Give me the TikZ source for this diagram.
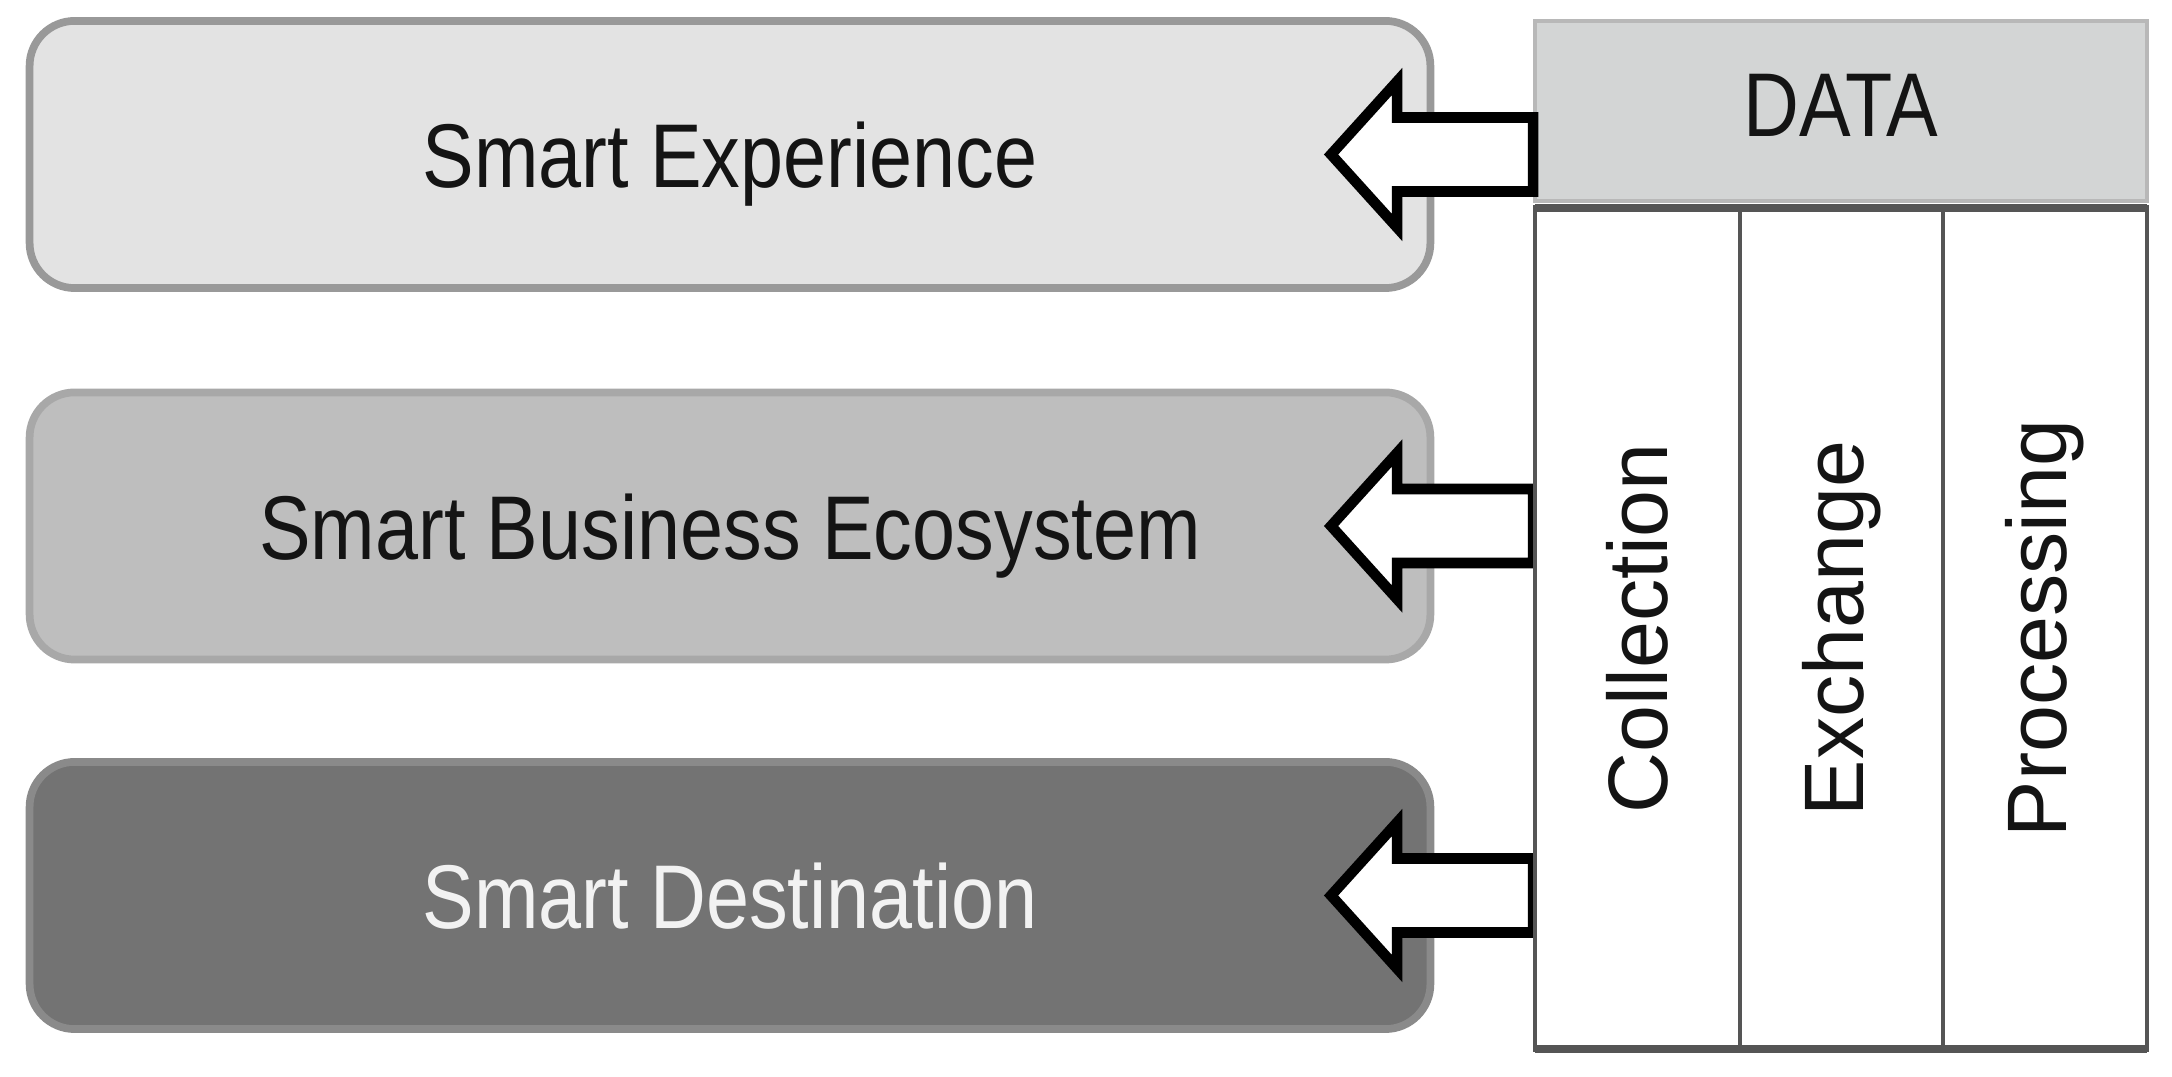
\documentclass[tikz,border=0pt]{standalone}
\usepackage{fontspec}
\usepackage{graphicx}
\setmainfont{Liberation Sans}
\definecolor{boxA}{HTML}{E3E3E3}
\definecolor{boxB}{HTML}{BEBEBE}
\definecolor{boxC}{HTML}{737373}
\definecolor{edgeA}{HTML}{999999}
\definecolor{edgeB}{HTML}{A8A8A8}
\definecolor{edgeC}{HTML}{8A8A8A}
\definecolor{datafill}{HTML}{D3D5D5}
\definecolor{dataedge}{HTML}{B8B8B8}
\definecolor{coledge}{HTML}{555555}
\definecolor{darktext}{HTML}{141414}
\definecolor{lighttext}{HTML}{F2F2F2}
\tikzset{
  layerbox/.style={draw, line width=2.2pt, rounded corners=0.45cm, minimum width=14cm, minimum height=2.67cm, inner sep=0pt,
    font=\fontsize{22}{26}\selectfont},
  databox/.style={draw=dataedge, fill=datafill, line width=1pt, minimum width=6.12cm, minimum height=1.8cm, inner sep=0pt,
    font=\fontsize{22}{26}\selectfont, text=darktext},
  colbox/.style={draw=coledge, fill=white, line width=1.3pt, rotate=90, minimum width=8.41cm, inner sep=0pt,
    font=\fontsize{24}{28}\selectfont, text=darktext},
  blockarrow/.style={draw=black, fill=white, line width=3pt, line join=miter}
}
\newcommand{\tallish}[2]{\smash{\raisebox{#1}{\scalebox{1}[1.17]{#2}}}}
\begin{document}
\begin{tikzpicture}[x=0.01cm, y=0.01cm]
\useasboundingbox (0,0) rectangle (2172,-1077);
% layer boxes
\node[layerbox, draw=edgeA, fill=boxA, text=darktext] (e1) at (730,-154.5) {\tallish{-0.33cm}{Smart Experience}};
\node[layerbox, draw=edgeB, fill=boxB, text=darktext] (e2) at (730,-526) {\tallish{-0.33cm}{Smart Business Ecosystem}};
\node[layerbox, draw=edgeC, fill=boxC, text=lighttext] (e3) at (730,-895.5) {\tallish{-0.33cm}{Smart Destination}};
% data header
\node[databox] (data) at (1841,-111) {\tallish{-0.26cm}{DATA}};
% block arrows from the data block to the layers
\foreach \i in {1,2,3}{
  \coordinate (s\i) at (data.west |- e\i.center);
  \draw[blockarrow] (s\i) ++(0,37) -- ++(-136,0) -- ++(0,36) -- ++(-66,-73) -- ++(66,-73) -- ++(0,36) -- ++(136,0) -- cycle;
}
% columns
\node[colbox, minimum height=2.05cm] (c1) at (1637.5,-628.5) {Collection};
\node[colbox, minimum height=2.03cm] (c2) at (1841.5,-628.5) {Exchange};
\node[colbox, minimum height=2.04cm] (c3) at (2045,-628.5) {Processing};
\draw[coledge, line width=2.2pt] (1535,-208) -- (2147,-208);
\draw[coledge, line width=2.2pt] (1535,-1049) -- (2147,-1049);
\end{tikzpicture}
\end{document}
